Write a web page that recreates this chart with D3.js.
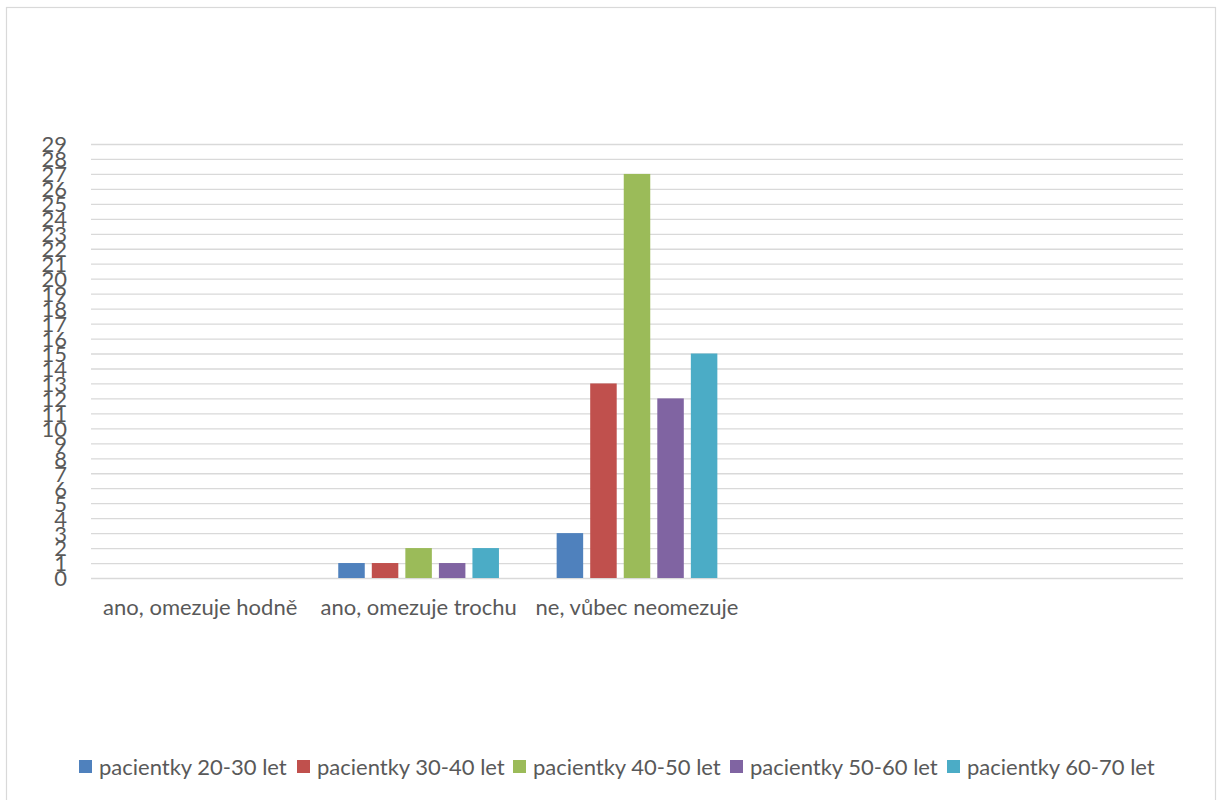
<!DOCTYPE html>
<html>
<head>
<meta charset="utf-8">
<script src="https://cdn.jsdelivr.net/npm/d3@7"></script>
<style>
  html, body { margin: 0; padding: 0; background: #fff; }
  svg { display: block; }
  text { font-family: Lato, "Open Sans", sans-serif; fill: #595959; }
</style>
</head>
<body>
<svg id="chart" width="1222" height="800"></svg>
<script>
// Answers grouped by patient age band
const categories = ["ano, omezuje hodně", "ano, omezuje trochu", "ne, vůbec neomezuje", "", ""];
const seriesNames = ["pacientky 20-30 let", "pacientky 30-40 let", "pacientky 40-50 let", "pacientky 50-60 let", "pacientky 60-70 let"];
const seriesColors = ["#4F81BD", "#C0504D", "#9BBB59", "#8064A2", "#4BACC6"];
const values20_30 = [0, 1, 3];
const values30_40 = [0, 1, 13];
const values40_50 = [0, 2, 27];
const values50_60 = [0, 1, 12];
const values60_70 = [0, 2, 15];
const yTicks = d3.range(0, 30);

const seriesValues = [values20_30, values30_40, values40_50, values50_60, values60_70];

const svg = d3.select("#chart");
const FONT = "Lato, 'Open Sans', sans-serif";

// outer frame
svg.append("rect")
  .attr("x", 6.5).attr("y", 7.5)
  .attr("width", 1209).attr("height", 800)
  .attr("fill", "none").attr("stroke", "#d9d9d9").attr("stroke-width", 1.2);

const plot = { left: 91, right: 1183, top: 144, bottom: 578 };

const x0 = d3.scaleBand()
  .domain(d3.range(categories.length))
  .range([plot.left, plot.right])
  .paddingInner(0).paddingOuter(0);

const x1 = d3.scaleBand()
  .domain(d3.range(seriesNames.length))
  .range([0, x0.bandwidth()])
  .paddingInner(0.21)
  .paddingOuter(0.86);

const y = d3.scaleLinear().domain([0, 29]).range([plot.bottom, plot.top]);

// horizontal gridlines
const grid = svg.append("g")
  .attr("transform", `translate(${plot.left},0)`)
  .call(d3.axisLeft(y).tickValues(yTicks).tickSize(-(plot.right - plot.left)).tickFormat(""));
grid.select(".domain").remove();
grid.selectAll("line").attr("stroke", "#d9d9d9").attr("stroke-width", 1.3);

// y tick labels
const yAxis = svg.append("g")
  .attr("transform", "translate(67,0)")
  .call(d3.axisLeft(y).tickValues(yTicks).tickSize(0).tickPadding(0));
yAxis.select(".domain").remove();
yAxis.selectAll("text")
  .attr("x", 0).attr("dy", "0.36em")
  .style("font-size", "22px").style("fill", "#595959")
  .style("font-family", FONT);

// bars
const groups = svg.append("g").selectAll("g")
  .data(categories.map((c, i) => i))
  .join("g")
  .attr("transform", i => `translate(${x0(i)},0)`);

groups.selectAll("rect")
  .data(i => seriesValues.map((s, k) => ({ k, v: s[i] })).filter(d => d.v !== undefined))
  .join("rect")
  .attr("x", d => x1(d.k))
  .attr("width", x1.bandwidth())
  .attr("y", d => y(d.v))
  .attr("height", d => y(0) - y(d.v))
  .attr("fill", d => seriesColors[d.k]);

// category labels
const xAxis = svg.append("g")
  .attr("transform", `translate(0,${plot.bottom})`)
  .call(d3.axisBottom(x0).tickSize(0).tickPadding(0).tickFormat(i => categories[i]));
xAxis.select(".domain").remove();
xAxis.selectAll("text")
  .attr("y", 37).attr("dy", 0)
  .style("font-size", "22px").style("fill", "#595959")
  .style("font-family", FONT);

// legend
const legendX = [79, 297, 513, 730, 947];
const legend = svg.append("g").selectAll("g")
  .data(seriesNames)
  .join("g")
  .attr("transform", (d, i) => `translate(${legendX[i]},760)`);
legend.append("rect")
  .attr("width", 13).attr("height", 13)
  .attr("fill", (d, i) => seriesColors[i]);
legend.append("text")
  .attr("x", 20).attr("y", 15)
  .style("font-size", "22px")
  .text(d => d);
</script>
</body>
</html>
